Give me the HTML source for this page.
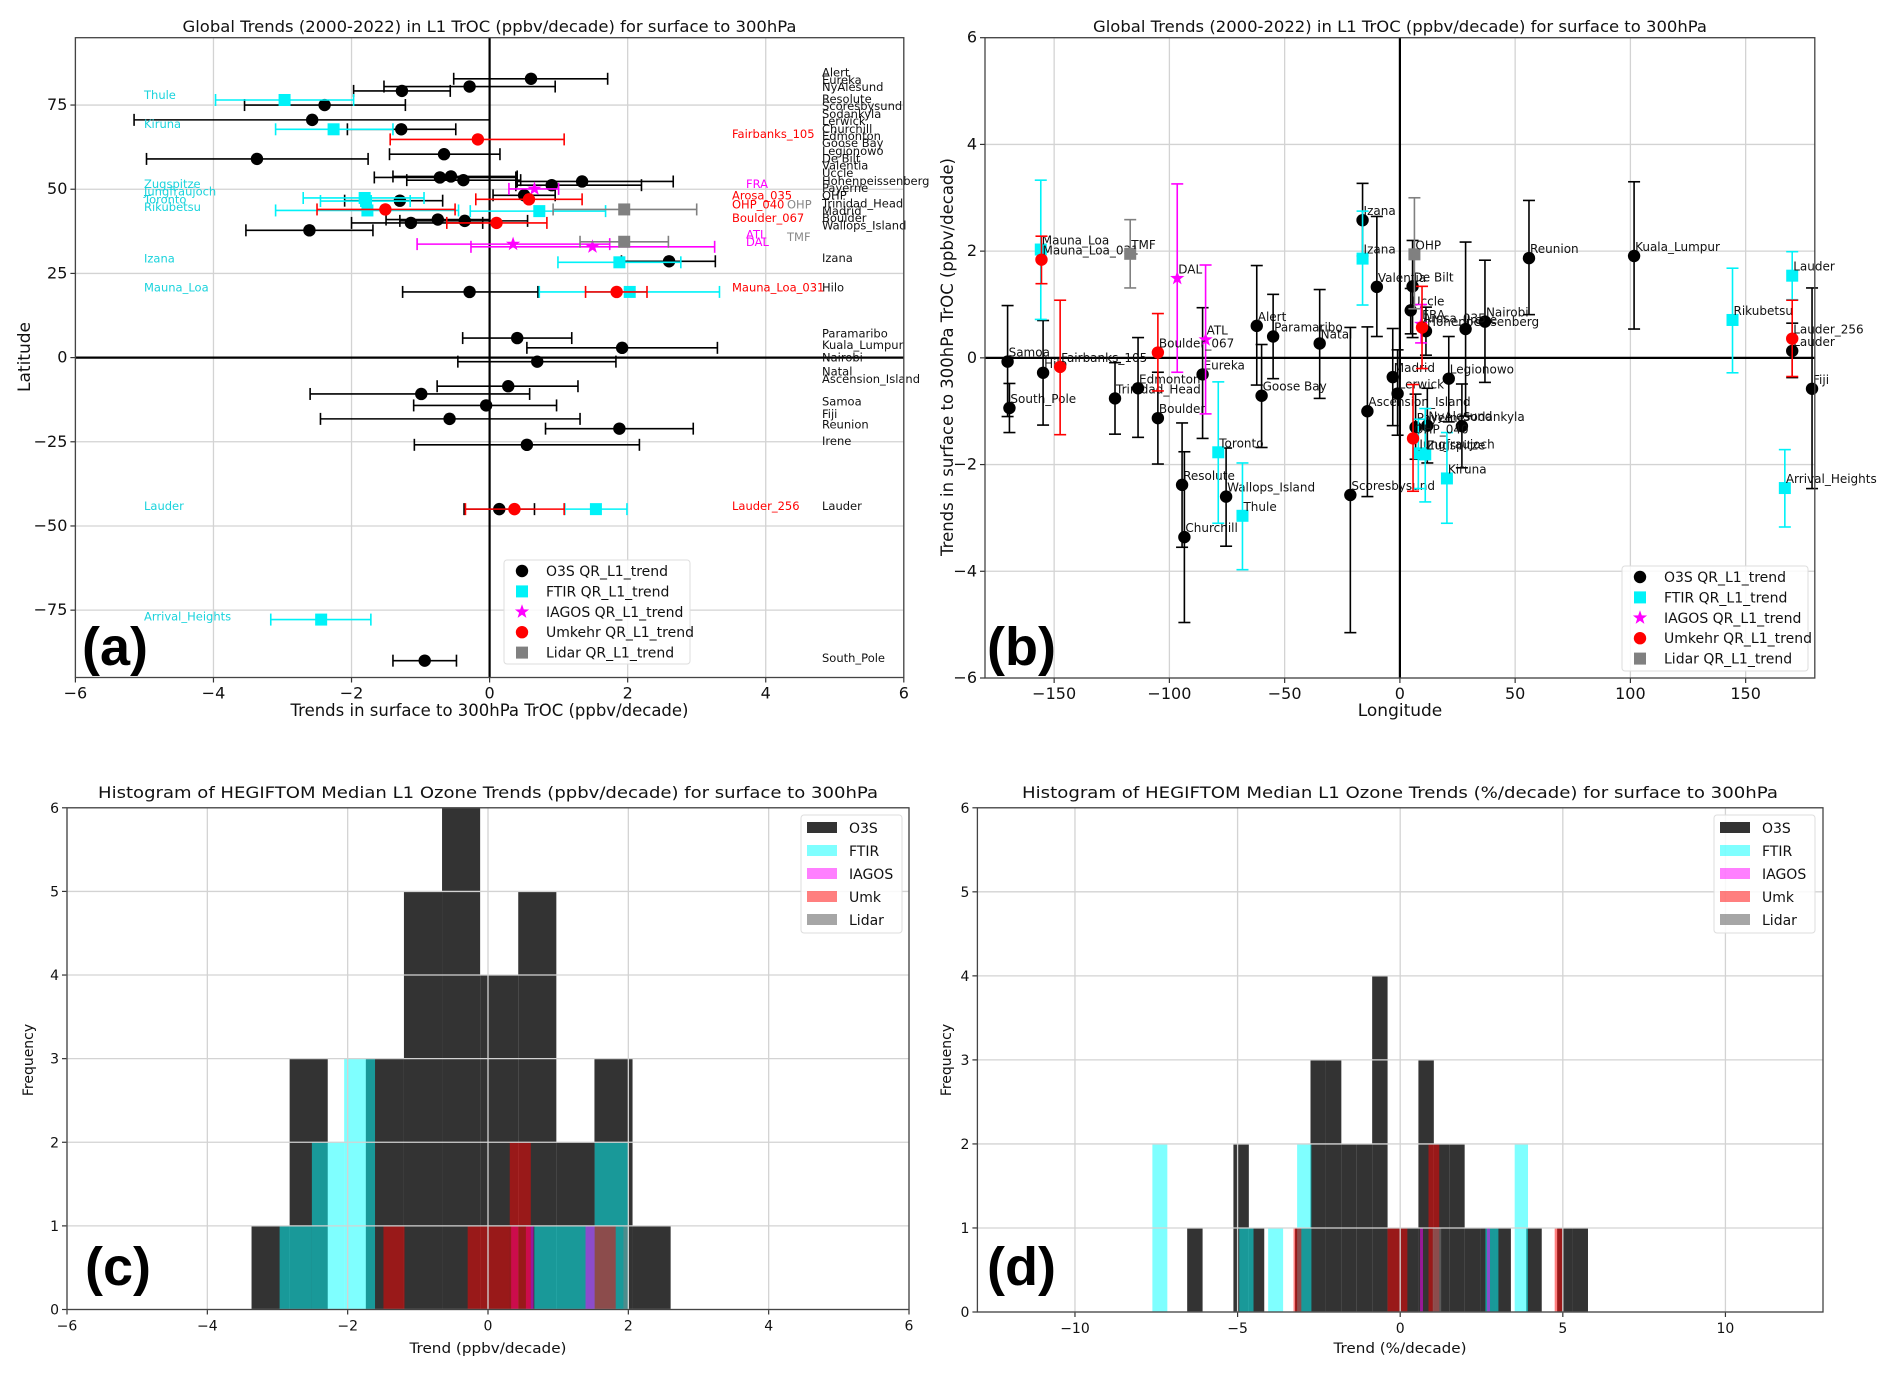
<!DOCTYPE html>
<html><head><meta charset="utf-8">
<style>
html,body{margin:0;padding:0;background:#fff;}
svg{display:block;font-family:"DejaVu Sans","Liberation Sans",sans-serif;}
</style></head>
<body>
<svg id="fig" width="1892" height="1379" viewBox="0 0 1892 1379" xmlns="http://www.w3.org/2000/svg">
<rect x="0" y="0" width="1892" height="1379" fill="#fff"/>
</svg>
<script>
// ---------- Panel (a) data: [trend, latitude, errLow, errHigh] ----------
const aO3S=[[0.60,82.8,-0.52,1.71],[-0.29,80.5,-1.53,0.95],[-1.27,79.2,-1.97,-0.57],[-2.39,75.0,-3.55,-1.22],[-2.57,70.6,-5.15,0.0],[-1.28,67.8,-2.06,-0.49],[-3.37,59.0,-4.97,-1.76],[-0.66,60.4,-1.45,0.15],[-0.72,53.5,-1.67,0.38],[-0.56,53.8,-1.40,0.40],[-0.38,52.7,-1.20,0.45],[1.34,52.3,0.40,2.66],[0.90,51.2,0.38,2.20],[0.50,48.2,0.05,0.95],[-1.30,46.6,-2.10,-0.68],[-0.75,41.0,-1.50,0.00],[-1.14,40.0,-2.00,-0.10],[-0.36,40.6,-1.30,0.55],[-2.61,37.8,-3.53,-1.69],[2.60,28.6,1.91,3.27],[-0.29,19.5,-1.26,0.70],[0.40,5.8,-0.39,1.19],[1.92,2.9,0.54,3.30],[0.69,-1.2,-0.46,1.83],[0.27,-8.5,-0.76,1.28],[-0.99,-10.8,-2.60,0.58],[-0.05,-14.2,-1.10,0.97],[-0.58,-18.2,-2.45,1.31],[1.88,-21.1,0.81,2.95],[0.54,-25.9,-1.09,2.17],[0.14,-45.0,-0.37,0.65],[-0.94,-90.0,-1.40,-0.48]];
const aFTIR=[[-2.97,76.5,-3.97,-1.97],[-2.26,67.8,-3.10,-1.40],[-1.81,47.4,-2.70,-0.95],[-1.79,46.5,-2.45,-1.15],[-1.77,43.7,-3.10,-0.45],[0.72,43.5,-0.28,1.68],[1.88,28.3,0.99,2.77],[2.03,19.5,0.72,3.33],[1.54,-45.0,1.09,1.99],[-2.44,-77.8,-3.17,-1.72]];
const aIAGOS=[[0.65,50.1,0.28,1.00],[0.34,33.7,-1.05,1.74],[1.49,32.9,-0.27,3.26]];
const aUmk=[[-0.17,64.8,-1.44,1.08],[0.57,47.0,-0.20,1.34],[-1.51,44.0,-2.50,-0.50],[0.10,40.0,-0.62,0.83],[1.84,19.5,1.39,2.28],[0.36,-45.0,-0.35,1.08]];
const aLidar=[[1.95,44.0,0.92,3.00],[1.95,34.4,1.31,2.59]];
const aO3SNames=["Alert","Eureka","NyAlesund","Resolute","Scoresbysund","Sodankyla","Lerwick","Churchill","Edmonton","Goose Bay","Legionowo","De Bilt","Valentia","Uccle","Hohenpeissenberg","Payerne","OHP","Trinidad_Head","Madrid","Boulder","Wallops_Island","Izana","Hilo","Paramaribo","Kuala_Lumpur","Nairobi","Natal","Ascension_Island","Samoa","Fiji","Reunion","Irene","Lauder","South_Pole"];
const aO3SNameLat=[84.6,82.5,80.3,76.8,74.7,72.4,70.2,67.9,65.8,63.7,61.3,59.2,57.0,54.8,52.5,50.3,48.1,45.8,43.6,41.4,39.2,29.6,20.8,7.1,3.8,0.0,-4.2,-6.4,-13.1,-16.8,-19.9,-24.7,-44.0,-89.2];
const aFTIRNames=["Thule","Kiruna","Zugspitze","Jungfraujoch","Toronto","Rikubetsu","Izana","Mauna_Loa","Lauder","Arrival_Heights"];
const aFTIRNameLat=[78.0,69.3,51.5,49.3,47.0,44.7,29.5,20.8,-44.0,-76.9];
const aUmkNames=["Fairbanks_105","Arosa_035","OHP_040","Boulder_067","Mauna_Loa_031","Lauder_256"];
const aUmkNameLat=[66.4,48.1,45.4,41.4,20.8,-44.0];
const aIAGOSNames=["FRA","ATL","DAL"];
const aIAGOSNameLat=[51.5,36.5,34.3];
const aLidarNames=["OHP","TMF"];
const aLidarNameLat=[45.4,35.8];

// ---------- Panel (b) data: [longitude, trend, errLow, errHigh] ----------
const bO3S=[[-170.2,-0.07,-1.10,0.98],[-169.4,-0.94,-1.40,-0.48],[-154.8,-0.28,-1.26,0.70],[-123.6,-0.76,-1.43,-0.09],[-113.6,-0.57,-1.49,0.38],[-105.0,-1.13,-1.99,-0.27],[-94.5,-2.38,-3.55,-1.22],[-93.5,-3.36,-4.96,-1.76],[-85.6,-0.31,-1.51,0.94],[-75.4,-2.60,-3.53,-1.69],[-62.1,0.60,-0.51,1.73],[-60.0,-0.71,-1.68,0.25],[-55.0,0.40,-0.39,1.19],[-34.8,0.27,-0.76,1.28],[-21.5,-2.57,-5.15,0.57],[-16.2,2.58,1.91,3.27],[-14.1,-1.00,-2.60,0.58],[-10.0,1.33,0.40,2.65],[-3.1,-0.36,-1.27,0.55],[-1.0,-0.67,-1.45,0.15],[4.7,0.89,0.45,1.30],[5.5,1.34,0.38,2.20],[6.8,-1.30,-1.90,-0.68],[11.3,0.50,0.05,0.95],[11.9,-1.27,-1.97,-0.57],[21.2,-0.39,-1.20,0.40],[26.9,-1.28,-2.06,-0.49],[28.5,0.54,-1.09,2.17],[36.9,0.68,-0.46,1.83],[56.0,1.87,0.81,2.95],[101.6,1.91,0.54,3.30],[170.2,0.13,-0.37,0.65],[178.8,-0.58,-2.45,1.31]];
const bO3SNames=["Samoa","South_Pole","Hilo","Trinidad_Head","Edmonton","Boulder","Resolute","Churchill","Eureka","Wallops_Island","Alert","Goose Bay","Paramaribo","Natal","Scoresbysund","Izana","Ascension_Island","Valentia","Madrid","Lerwick","Uccle","De Bilt","Payerne","Hohenpeissenberg","NyAlesund","Legionowo","Sodankyla","Irene","Nairobi","Reunion","Kuala_Lumpur","Lauder","Fiji"];
const bFTIR=[[-155.8,2.03,0.72,3.33],[-78.8,-1.77,-3.10,-0.45],[-68.3,-2.96,-3.97,-1.97],[-16.2,1.86,0.99,2.75],[8.0,-1.79,-2.45,-1.15],[11.0,-1.81,-2.70,-0.95],[20.4,-2.26,-3.10,-1.40],[144.3,0.71,-0.28,1.68],[170.2,1.54,1.09,1.99],[167.0,-2.44,-3.17,-1.72]];
const bFTIRNames=["Mauna_Loa","Toronto","Thule","Izana","Jungfraujoch","Zugspitze","Kiruna","Rikubetsu","Lauder","Arrival_Heights"];
const bIAGOS=[[-96.6,1.49,-0.27,3.26],[-84.3,0.34,-1.05,1.74],[9.2,0.63,0.28,1.00]];
const bIAGOSNames=["DAL","ATL","FRA"];
const bUmk=[[-155.5,1.84,1.39,2.28],[-147.4,-0.17,-1.44,1.08],[-105.0,0.10,-0.62,0.83],[5.7,-1.51,-2.50,-0.50],[9.6,0.57,-0.20,1.34],[170.2,0.36,-0.35,1.08]];
const bUmkNames=["Mauna_Loa_031","Fairbanks_105","Boulder_067","OHP_040","Arosa_035","Lauder_256"];
const bLidar=[[-117.0,1.95,1.31,2.59],[6.3,1.94,0.92,3.00]];
const bLidarNames=["TMF","OHP"];

// ---------- Panel (c) histogram data (ppbv/decade) ----------
const cO3SStart=-3.37, cO3SWidth=0.543;
const cO3SCounts=[1,3,0,3,5,6,4,5,2,3,1];
const cFTIRLeft=[-2.97,-2.51,-2.05,0.66,1.52];
const cFTIRRight=[-2.51,-2.05,-1.61,1.52,2.00];
const cFTIRCounts=[1,2,3,1,2];
const cIAGOSLeft=[0.33,0.54,1.39];
const cIAGOSRight=[0.43,0.65,1.52];
const cIAGOSCounts=[1,1,1];
const cUmkLeft=[-1.49,-0.29,0.31,1.52];
const cUmkRight=[-1.19,0.31,0.61,1.82];
const cUmkCounts=[1,1,2,1];
const cLidarLeft=[1.93];
const cLidarRight=[2.00];
const cLidarCounts=[1];

// ---------- Panel (d) histogram data (%/decade) ----------
const dO3SStart=-6.55, dO3SWidth=0.474;
const dO3SCounts=[1,0,0,2,1,0,0,1,3,3,2,2,4,1,1,3,2,2,1,1,1,0,1,0,1,1];
const dFTIRLeft=[-7.62,-4.95,-4.06,-3.17,2.62,3.52];
const dFTIRRight=[-7.16,-4.51,-3.60,-2.73,3.02,3.93];
const dFTIRCounts=[2,1,1,2,1,2];
const dIAGOSLeft=[0.61,2.67];
const dIAGOSRight=[0.70,2.76];
const dIAGOSCounts=[1,1];
const dUmkLeft=[-3.28,-0.39,0.87,4.75];
const dUmkRight=[-3.04,0.22,1.20,5.00];
const dUmkCounts=[1,1,2,1];
const dLidarLeft=[1.00];
const dLidarRight=[1.26];
const dLidarCounts=[1];

// ---------- ticks ----------
const aXTicks=[-6,-4,-2,0,2,4,6];
const aYTicks=[-75,-50,-25,0,25,50,75];
const bXTicks=[-150,-100,-50,0,50,100,150];
const bYTicks=[-6,-4,-2,0,2,4,6];
const cXTicks=[-6,-4,-2,0,2,4,6];
const cYTicks=[0,1,2,3,4,5,6];
const dXTicks=[-10,-5,0,5,10];
const dYTicks=[0,1,2,3,4,5,6];

// ---------- helpers ----------
const NS='http://www.w3.org/2000/svg';
const svg=document.getElementById('fig');
function mk(tag,attrs,parent){const e=document.createElementNS(NS,tag);for(const k in attrs)e.setAttribute(k,attrs[k]);(parent||svg).appendChild(e);return e;}
function txt(s,attrs,parent){const e=mk('text',attrs,parent);e.textContent=s;return e;}
function scale(d0,d1,r0,r1){return v=>r0+(v-d0)*(r1-r0)/(d1-d0);}
function fmt(v){return v<0?'\u2212'+Math.abs(v):String(v);}

const CYAN='#00f2f8', CYANTXT='#1ad3dc';

function makeAxes(id,L,R,T,B,xd,yd,xt,yt,gridOnTop,tickSize){
  const g=mk('g',{});
  
  
  const X=scale(xd[0],xd[1],L,R), Y=scale(yd[0],yd[1],B,T);
  const grid=mk('g',{},g);
  
  
  xt.forEach(v=>{
    const l=mk('line',{x1:X(v),x2:X(v),y1:T,y2:B,stroke:'#d3d3d3','stroke-width':1.3},grid);
    
    
    const tk=mk('line',{x1:X(v),x2:X(v),y1:B,y2:B+5,stroke:'#333','stroke-width':1.2},g);
    
    
    const t=txt(fmt(v),{x:X(v),y:B+21,'text-anchor':'middle','font-size':tickSize,fill:'#111'},g);
    
    
  });
  yt.forEach(v=>{
    const l=mk('line',{x1:L,x2:R,y1:Y(v),y2:Y(v),stroke:'#d3d3d3','stroke-width':1.3},grid);
    
    
    const tk=mk('line',{x1:L-5,x2:L,y1:Y(v),y2:Y(v),stroke:'#333','stroke-width':1.2},g);
    
    
    const t=txt(fmt(v),{x:L-8,y:Y(v)+5,'text-anchor':'end','font-size':tickSize,fill:'#111'},g);
    
    
  });
  const plot=mk('g',{});
  
  
  if(gridOnTop){svg.appendChild(grid);}
  const fr=mk('rect',{x:L,y:T,width:R-L,height:B-T,fill:'none',stroke:'#444','stroke-width':1.3});
  
  
  return {X,Y,plot,grid,frame:fr,L,R,T,B};
}

function marker(kind,cx,cy,color,parent){
  let m;
  if(kind==='circle'){m=mk('circle',{cx:cx,cy:cy,r:6.2,fill:color},parent);}
  else if(kind==='square'){m=mk('rect',{x:cx-6,y:cy-6,width:12,height:12,fill:color},parent);}
  else {
    const pts=[];for(let i=0;i<10;i++){const r=i%2?3:7.5;const a=-Math.PI/2+i*Math.PI/5;pts.push((cx+r*Math.cos(a)).toFixed(1)+','+(cy+r*Math.sin(a)).toFixed(1));}
    m=mk('polygon',{points:pts.join(' '),fill:color},parent);
  }
  return m;
}

function hErr(P,rows,color,kind,name){
  rows.forEach(r=>{
    const g=mk('g',{},P.plot);
    
    
    const y=P.Y(r[1]),x0=P.X(r[2]),x1=P.X(r[3]);
    mk('line',{x1:x0,x2:x1,y1:y,y2:y,stroke:color,'stroke-width':1.6},g);
    mk('line',{x1:x0,x2:x0,y1:y-6,y2:y+6,stroke:color,'stroke-width':1.6},g);
    mk('line',{x1:x1,x2:x1,y1:y-6,y2:y+6,stroke:color,'stroke-width':1.6},g);
    marker(kind,P.X(r[0]),y,color,g);
  });
}
function vErr(P,rows,color,kind,name,names,tcolor){
  rows.forEach((r,i)=>{
    const g=mk('g',{},P.plot);
    
    
    const x=P.X(r[0]),y0=P.Y(r[2]),y1=P.Y(r[3]);
    mk('line',{x1:x,x2:x,y1:y0,y2:y1,stroke:color,'stroke-width':1.6},g);
    mk('line',{x1:x-6,x2:x+6,y1:y0,y2:y0,stroke:color,'stroke-width':1.6},g);
    mk('line',{x1:x-6,x2:x+6,y1:y1,y2:y1,stroke:color,'stroke-width':1.6},g);
    const yy=P.Y(r[1]);
    marker(kind,x,yy,color,g);
    const t=txt(names[i],{x:x+1,y:yy-5,'font-size':12,fill:tcolor||'#111'},P.plot);
    
    
  });
}
function nameCol(P,names,lats,x,color){
  names.forEach((n,i)=>{
    const t=txt(n,{x:x,y:P.Y(lats[i])+4,'font-size':11.5,fill:color},P.plot);
    
    
  });
}
function bars(P,lefts,rights,counts,color,name){
  counts.forEach((c,i)=>{
    if(!c)return;
    const x0=P.X(lefts[i]),x1=P.X(rights[i]);
    const b=mk('rect',{x:x0,y:P.Y(c),width:x1-x0,height:P.Y(0)-P.Y(c),fill:color},P.plot);
    
    
  });
}
function title(s,cx,y,len){
  const t=txt(s,{x:cx,y:y,'text-anchor':'middle','font-size':16,fill:'#111',textLength:len,lengthAdjust:'spacingAndGlyphs'});
  
  
}
function label(s,x,y,rot,nm,size,len){
  const a={x:x,y:y,'text-anchor':'middle','font-size':size,fill:'#111'};
  if(rot)a.transform='rotate(-90 '+x+' '+y+')';
  if(len){a.textLength=len;a.lengthAdjust='spacingAndGlyphs';}
  const t=txt(s,a);
  
  
}
function panelTag(s,x,y){
  const t=txt(s,{x:x,y:y,'font-size':54,'font-weight':'bold','font-family':'Liberation Sans, sans-serif',fill:'#000'});
  
  
}
function scatterLegend(x0,y0,w,h,nm){
  const g=mk('g',{});
  
  
  mk('rect',{x:x0,y:y0,width:w,height:h,rx:3,fill:'rgba(255,255,255,0.85)',stroke:'#ddd'},g);
  const items=[['circle','#000','O3S QR_L1_trend'],['square',CYAN,'FTIR QR_L1_trend'],['star','#ff00ff','IAGOS QR_L1_trend'],['circle','#ff0000','Umkehr QR_L1_trend'],['square','#808080','Lidar QR_L1_trend']];
  items.forEach((it,i)=>{
    const e=mk('g',{},g);
    
    
    const yy=y0+11+i*20.4;
    marker(it[0],x0+18,yy,it[1],e);
    txt(it[2],{x:x0+42,y:yy+5,'font-size':14,fill:'#111'},e);
  });
}
function histLegend(x0,y0,nm){
  const g=mk('g',{});
  
  
  mk('rect',{x:x0,y:y0,width:101,height:118,rx:3,fill:'rgba(255,255,255,0.85)',stroke:'#ddd'},g);
  const items=[['rgba(0,0,0,0.8)','O3S'],['rgba(0,255,255,0.5)','FTIR'],['rgba(255,0,255,0.5)','IAGOS'],['rgba(255,0,0,0.5)','Umk'],['rgba(128,128,128,0.7)','Lidar']];
  items.forEach((it,i)=>{
    const e=mk('g',{},g);
    
    
    const yy=y0+12+i*23;
    mk('rect',{x:x0+6,y:yy-5,width:30,height:11,fill:it[0]},e);
    txt(it[1],{x:x0+48,y:yy+6,'font-size':14,fill:'#111'},e);
  });
}

// ================= Panel (a) =================
const A=makeAxes('panel-a',75.4,903.8,37.7,677.5,[-6,6],[-95,95],aXTicks,aYTicks,false,16);
svg.appendChild(A.plot);
(function(){
  const z1=mk('line',{x1:A.X(0),x2:A.X(0),y1:A.T,y2:A.B,stroke:'#000','stroke-width':2.2},A.plot);
  
  
  const z2=mk('line',{x1:A.L,x2:A.R,y1:A.Y(0),y2:A.Y(0),stroke:'#000','stroke-width':2.2},A.plot);
  
  
})();
hErr(A,aO3S,'#000','circle','o3s');
hErr(A,aFTIR,CYAN,'square','ftir');
hErr(A,aIAGOS,'#ff00ff','star','iagos');
hErr(A,aUmk,'#ff0000','circle','umkehr');
hErr(A,aLidar,'#808080','square','lidar');
nameCol(A,aO3SNames,aO3SNameLat,822,'#111');
nameCol(A,aFTIRNames,aFTIRNameLat,144,CYANTXT);
nameCol(A,aUmkNames,aUmkNameLat,732,'#ff0000');
nameCol(A,aIAGOSNames,aIAGOSNameLat,746,'#ff00ff');
nameCol(A,aLidarNames,aLidarNameLat,787,'#888');
svg.appendChild(A.frame);
title('Global Trends (2000-2022) in L1 TrOC (ppbv/decade) for surface to 300hPa',489.5,32,614);
label('Trends in surface to 300hPa TrOC (ppbv/decade)',489.5,716,false,'x-axis-title',17,398);
label('Latitude',30,357,true,'y-axis-title',17,0);
scatterLegend(504,560,186,104,'legend-a');
panelTag('(a)',82,665);

// ================= Panel (b) =================
const Bp=makeAxes('panel-b',985,1814.8,37.7,678,[-180,180],[-6,6],bXTicks,bYTicks,false,16);
svg.appendChild(Bp.plot);
(function(){
  const z1=mk('line',{x1:Bp.X(0),x2:Bp.X(0),y1:Bp.T,y2:Bp.B,stroke:'#000','stroke-width':2.2},Bp.plot);
  
  
  const z2=mk('line',{x1:Bp.L,x2:Bp.R,y1:Bp.Y(0),y2:Bp.Y(0),stroke:'#000','stroke-width':2.2},Bp.plot);
  
  
})();
vErr(Bp,bO3S,'#000','circle','o3s',bO3SNames,'#111');
vErr(Bp,bFTIR,CYAN,'square','ftir',bFTIRNames,'#111');
vErr(Bp,bIAGOS,'#ff00ff','star','iagos',bIAGOSNames,'#111');
vErr(Bp,bUmk,'#ff0000','circle','umkehr',bUmkNames,'#111');
vErr(Bp,bLidar,'#808080','square','lidar',bLidarNames,'#111');
svg.appendChild(Bp.frame);
title('Global Trends (2000-2022) in L1 TrOC (ppbv/decade) for surface to 300hPa',1400,32,614);
label('Longitude',1400,716,false,'x-axis-title',17,0);
label('Trends in surface to 300hPa TrOC (ppbv/decade)',953,357,true,'y-axis-title',17,398);
scatterLegend(1622,566,186,105,'legend-b');
panelTag('(b)',987,665);

// ================= Panel (c) =================
const C=makeAxes('panel-c',67,909,807.8,1309.5,[-6,6],[0,6],cXTicks,cYTicks,true,14);
svg.appendChild(C.plot);
(function(){
  const lefts=cO3SCounts.map((c,i)=>cO3SStart+i*cO3SWidth);
  const rights=cO3SCounts.map((c,i)=>cO3SStart+(i+1)*cO3SWidth);
  bars(C,lefts,rights,cO3SCounts,'rgba(0,0,0,0.8)','o3s');
})();
bars(C,cFTIRLeft,cFTIRRight,cFTIRCounts,'rgba(0,255,255,0.5)','ftir');
bars(C,cIAGOSLeft,cIAGOSRight,cIAGOSCounts,'rgba(255,0,255,0.5)','iagos');
bars(C,cUmkLeft,cUmkRight,cUmkCounts,'rgba(255,0,0,0.5)','umk');
bars(C,cLidarLeft,cLidarRight,cLidarCounts,'rgba(128,128,128,0.5)','lidar');
svg.appendChild(C.grid);
svg.appendChild(C.frame);
title('Histogram of HEGIFTOM Median L1 Ozone Trends (ppbv/decade) for surface to 300hPa',488,798,780);
label('Trend (ppbv/decade)',488,1353,false,'x-axis-title',14,157);
label('Frequency',33,1060,true,'y-axis-title',14,0);
histLegend(801,815,'legend-c');
panelTag('(c)',85,1285);

// ================= Panel (d) =================
const D=makeAxes('panel-d',977.4,1823,807.8,1312,[-13,13],[0,6],dXTicks,dYTicks,true,14);
svg.appendChild(D.plot);
(function(){
  const lefts=dO3SCounts.map((c,i)=>dO3SStart+i*dO3SWidth);
  const rights=dO3SCounts.map((c,i)=>dO3SStart+(i+1)*dO3SWidth);
  bars(D,lefts,rights,dO3SCounts,'rgba(0,0,0,0.8)','o3s');
})();
bars(D,dFTIRLeft,dFTIRRight,dFTIRCounts,'rgba(0,255,255,0.5)','ftir');
bars(D,dIAGOSLeft,dIAGOSRight,dIAGOSCounts,'rgba(255,0,255,0.5)','iagos');
bars(D,dUmkLeft,dUmkRight,dUmkCounts,'rgba(255,0,0,0.5)','umk');
bars(D,dLidarLeft,dLidarRight,dLidarCounts,'rgba(128,128,128,0.5)','lidar');
svg.appendChild(D.grid);
svg.appendChild(D.frame);
title('Histogram of HEGIFTOM Median L1 Ozone Trends (%/decade) for surface to 300hPa',1400,798,756);
label('Trend (%/decade)',1400,1353,false,'x-axis-title',14,133);
label('Frequency',951,1060,true,'y-axis-title',14,0);
histLegend(1714,815,'legend-d');
panelTag('(d)',987,1285);
</script>
</body></html>
